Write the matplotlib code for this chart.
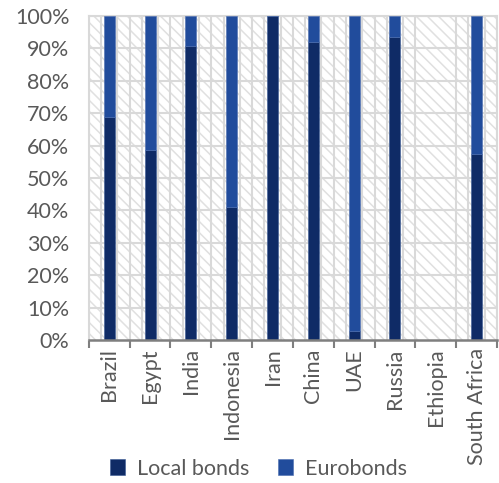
import numpy as np
import matplotlib.pyplot as plt
from matplotlib.patches import Rectangle
from matplotlib.ticker import PercentFormatter

# Share of sovereign bond stock by type (%)
countries = ['Brazil', 'Egypt', 'India', 'Indonesia', 'Iran', 'China',
             'UAE', 'Russia', 'Ethiopia', 'South Africa']
local_bonds = [68.8, 58.5, 90.6, 41.0, 100.0, 92.0, 2.7, 93.4, 0.0, 57.3]
eurobonds = [31.2, 41.5, 9.4, 59.0, 0.0, 8.0, 97.3, 6.6, 0.0, 42.7]

DARK = '#0f2b66'
BLUE = '#214c9c'
GRID = '#d9d9d9'
TEXT = '#595959'
FS = 15.5

plt.rcParams['font.family'] = ['Lato', 'DejaVu Sans']
plt.rcParams['hatch.color'] = '#e0e0e0'
plt.rcParams['hatch.linewidth'] = 1.1

fig = plt.figure(figsize=(4.99, 4.83), dpi=100)
ax = fig.add_axes([0.178, 0.296, 0.818, 0.671])

x = np.arange(len(countries))
ax.set_xlim(-0.5, len(countries) - 0.5)
ax.set_ylim(0, 100)

# hatched plot background
ax.add_patch(Rectangle((0, 0), 1, 1, transform=ax.transAxes, facecolor='white',
                       hatch='\\\\\\', edgecolor='#e0e0e0', linewidth=0, zorder=0))

# gridlines
for v in range(10, 101, 10):
    ax.axhline(v, color=GRID, lw=1.5, zorder=1)
for b in np.arange(-0.5, len(countries), 1.0):
    ax.axvline(b, color=GRID, lw=1.5, zorder=1)
has_data = [i for i in x if local_bonds[i] + eurobonds[i] > 0]
for i in has_data:
    ax.axvline(i - 0.2, color=GRID, lw=1.5, zorder=1)
    ax.axvline(i + 0.2, color=GRID, lw=1.5, zorder=1)

w = 0.27
ax.bar(x, local_bonds, width=w, color=DARK, label='Local bonds', zorder=3,
       edgecolor='#3a5a94', linewidth=0.4)
ax.bar(x, eurobonds, width=w, bottom=local_bonds, color=BLUE, label='Eurobonds',
       zorder=3, edgecolor='#4a6cb0', linewidth=0.4)

ax.yaxis.set_major_formatter(PercentFormatter(decimals=0))
ax.set_yticks(range(0, 101, 10))
ax.tick_params(axis='y', length=0, pad=14, labelsize=FS, labelcolor=TEXT)

ax.set_xticks(x)
ax.set_xticklabels(countries, rotation=90, fontsize=FS, color=TEXT)
ax.tick_params(axis='x', which='major', length=0, pad=6)
ax.set_xticks(np.arange(-0.5, len(countries), 1.0), minor=True)
ax.tick_params(axis='x', which='minor', length=6, width=1.5, color='#7f7f7f')

for s in ['top', 'right', 'left']:
    ax.spines[s].set_color(GRID)
    ax.spines[s].set_linewidth(1.5)
ax.spines['bottom'].set_color('#7f7f7f')
ax.spines['bottom'].set_linewidth(1.8)
ax.spines['bottom'].set_zorder(4)

fig.legend(loc='center', bbox_to_anchor=(0.518, 0.03), ncol=2, frameon=False,
           fontsize=FS, labelcolor=TEXT, handlelength=0.7, handleheight=0.7,
           columnspacing=1.3, handletextpad=0.55)

fig.savefig('out.png', dpi=100)
